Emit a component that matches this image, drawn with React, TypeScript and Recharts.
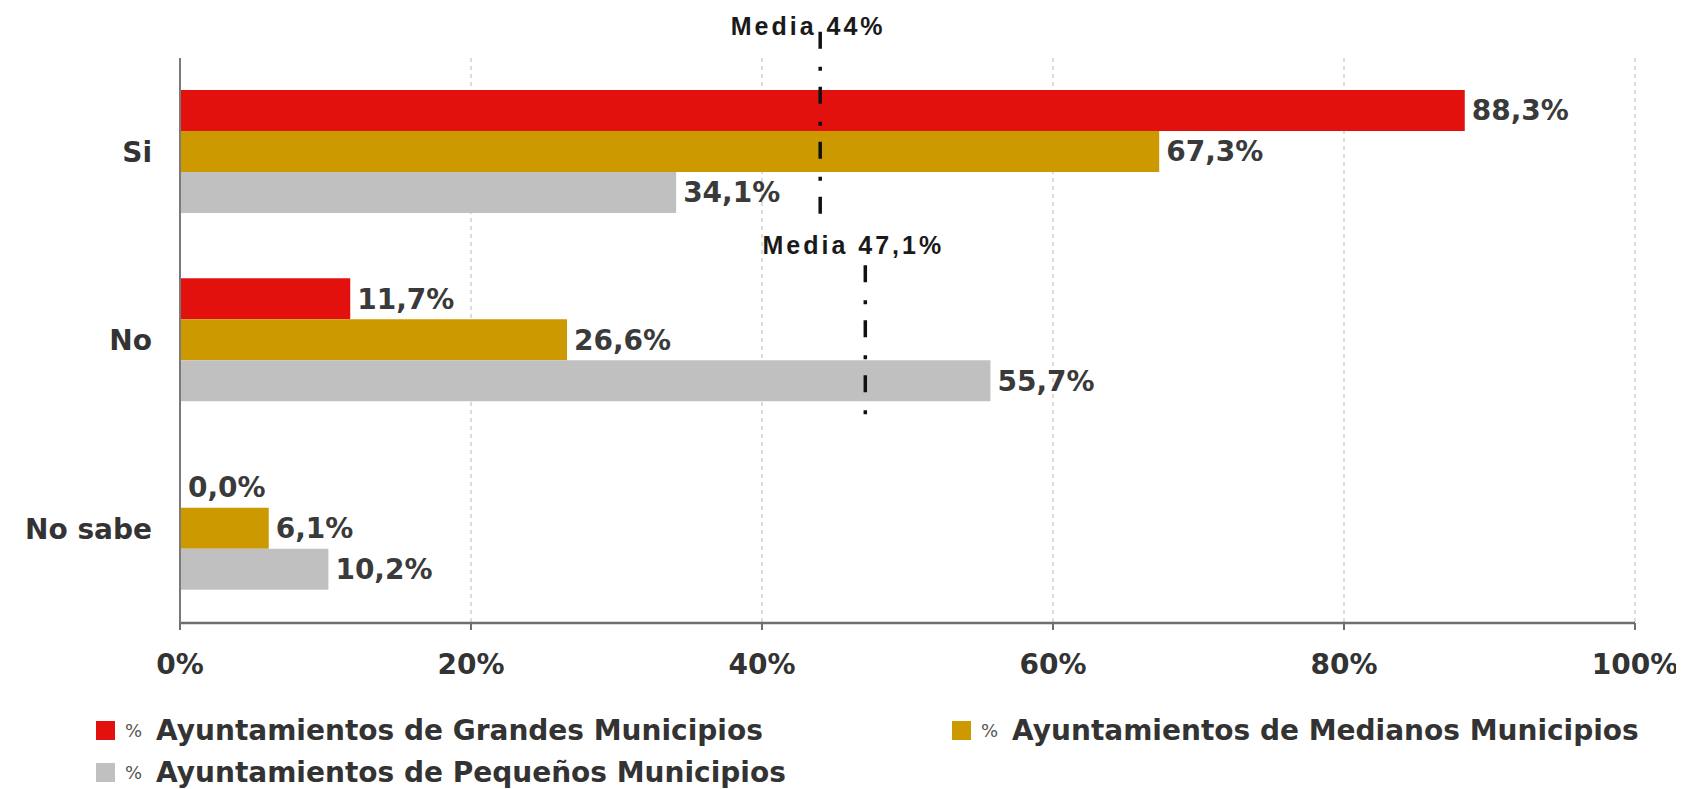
import React from 'react';
import { BarChart, Bar, XAxis, YAxis, CartesianGrid, LabelList, ReferenceLine, Legend } from 'recharts';

const categories = ['Si', 'No', 'No sabe'];
const grandes = [88.3, 11.7, 0.0];
const medianos = [67.3, 26.6, 6.1];
const pequenos = [34.1, 55.7, 10.2];
const seriesKeys = ['grandes', 'medianos', 'pequenos'];
const seriesNames = [
  '% Ayuntamientos de Grandes Municipios',
  '% Ayuntamientos de Medianos Municipios',
  '% Ayuntamientos de Pequeños Municipios',
];
const seriesColors = ['#E2110D', '#CC9900', '#C0C0C0'];
const xTicks = [0, 20, 40, 60, 80, 100];
const mediaValues = [44, 47.1];
const mediaLabels = ['Media 44%', 'Media 47,1%'];

const seriesValues = [grandes, medianos, pequenos];
const data = categories.map((cat, i) => {
  const row: Record<string, any> = { cat };
  seriesKeys.forEach((k, s) => {
    row[k] = seriesValues[s][i];
  });
  return row;
});

// vertical extent of the "Media" markers, in category-band units (0 = top of plot)
const mediaSpans = [
  [-0.14, 0.86],
  [1.1, 1.92],
];
const mediaLabelDy = [3, -11];

const FONT = '"DejaVu Sans", Verdana, sans-serif';
const fmt = (v: any) => `${Number(v).toFixed(1).replace('.', ',')}%`;

const legendPos = [
  { left: 88, top: 22 },
  { left: 944, top: 22 },
  { left: 88, top: 64 },
];

const renderLegend = () => (
  <div style={{ position: 'relative', width: 1676, height: 90, fontFamily: FONT }}>
    {seriesNames.map((name, i) => (
      <div
        key={name}
        style={{
          position: 'absolute',
          left: legendPos[i].left,
          top: legendPos[i].top - 16,
          height: 32,
          display: 'flex',
          alignItems: 'center',
          whiteSpace: 'nowrap',
        }}
      >
        <span style={{ width: 19, height: 19, background: seriesColors[i], display: 'inline-block' }} />
        <span style={{ marginLeft: 10, fontSize: 18, color: '#555' }}>{name.slice(0, 1)}</span>
        <span style={{ marginLeft: 14, fontSize: 28, fontWeight: 'bold', color: '#333' }}>{name.slice(2)}</span>
      </div>
    ))}
  </div>
);

const makeMediaShape = (i: number) => (props: any) => {
  const { x1, y1, y2 } = props;
  const top = Math.min(y1, y2);
  const bottom = Math.max(y1, y2);
  const band = (bottom - top) / categories.length;
  const ya = top + mediaSpans[i][0] * band;
  const yb = top + mediaSpans[i][1] * band;
  return (
    <g>
      <line
        x1={x1}
        x2={x1}
        y1={ya}
        y2={yb}
        stroke="#111"
        strokeWidth={3.5}
        strokeDasharray="17 18 4 16"
      />
      <text
        x={x1 - 12}
        y={ya + mediaLabelDy[i]}
        textAnchor="middle"
        fontFamily='"Liberation Sans", Arial, sans-serif'
        fontWeight="bold"
        fontSize={25}
        letterSpacing={3}
        fill="#1a1a1a"
      >
        {mediaLabels[i]}
      </text>
    </g>
  );
};

export default function App() {
  return (
    <div style={{ fontFamily: FONT }}>
      <BarChart
        layout="vertical"
        width={1676}
        height={781}
        data={data}
        margin={{ top: 50, right: 49, left: 0, bottom: 106 }}
        barCategoryGap="17%"
        barGap={0}
      >
        <CartesianGrid horizontal={false} strokeDasharray="4 4" stroke="#cfcfcf" strokeWidth={1.5} />
        <XAxis
          type="number"
          domain={[0, 100]}
          ticks={xTicks}
          interval={0}
          tickFormatter={(v: any) => `${v}%`}
          tick={{ fontSize: 28, fontWeight: 'bold', fill: '#333', fontFamily: FONT }}
          tickSize={7}
          tickMargin={24}
          height={60}
          axisLine={{ stroke: '#6e6e6e', strokeWidth: 2.5 }}
          tickLine={{ stroke: '#6e6e6e', strokeWidth: 2 }}
        />
        <YAxis
          type="category"
          dataKey="cat"
          width={172}
          tickSize={0}
          tickMargin={28}
          tickLine={false}
          axisLine={{ stroke: '#7a7a7a', strokeWidth: 2 }}
          tick={{ fontSize: 28, fontWeight: 'bold', fill: '#333', fontFamily: FONT }}
        />
        {seriesKeys.map((k, i) => (
          <Bar
            key={k}
            dataKey={k}
            name={seriesNames[i]}
            fill={seriesColors[i]}
            minPointSize={1}
            isAnimationActive={false}
          >
            <LabelList
              dataKey={k}
              position="right"
              offset={7}
              formatter={fmt}
              fill="#3a3a3a"
              fontSize={28}
              fontWeight="bold"
              fontFamily={FONT}
            />
          </Bar>
        ))}
        {mediaValues.map((v, i) => (
          <ReferenceLine key={v} x={v} ifOverflow="visible" shape={makeMediaShape(i)} />
        ))}
        <Legend
          layout="horizontal"
          verticalAlign="middle"
          align="center"
          content={renderLegend}
          wrapperStyle={{ top: 700, left: 0, width: 1676, height: 90 }}
        />
      </BarChart>
    </div>
  );
}
